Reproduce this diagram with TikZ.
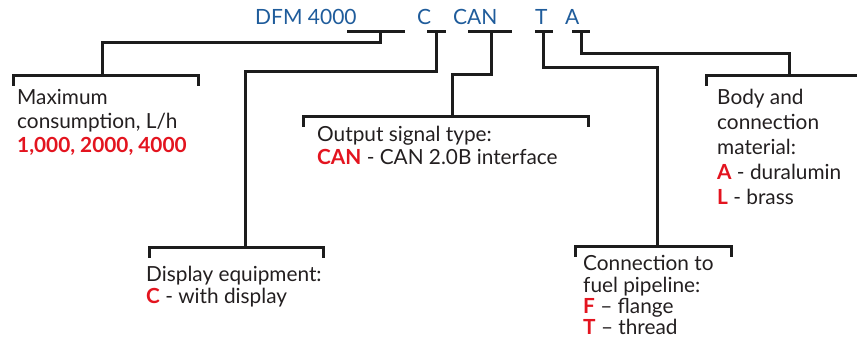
\documentclass[tikz,border=0pt]{standalone}
\usepackage{fontspec}
\setmainfont{Lato}
\definecolor{codeblue}{HTML}{1F5C9B}
\definecolor{optred}{HTML}{E3141F}
\definecolor{txt}{HTML}{231F20}
\definecolor{ln}{HTML}{1C1C1C}
\begin{document}
\begin{tikzpicture}[x=1pt,y=-1pt,
  code/.style={anchor=base west,inner sep=0pt,text=codeblue,font=\fontsize{21}{25}\selectfont},
  desc/.style={anchor=base west,inner sep=0pt,text=txt,font=\fontsize{20.8}{24}\selectfont},
  lead/.style={draw=ln,line width=3pt,line cap=rect,line join=miter},
  bracket/.style={draw=ln,line width=3pt,line join=miter}]
\useasboundingbox (0,0) rectangle (857,339);
% code letters
\node[code] (dfm) at (255,25) {DFM 4000};
\node[code] (c) at (417,25) {C};
\node[code] (can) at (453,25) {CAN};
\node[code] (t) at (535,25) {T};
\node[code] (a) at (565,25) {A};
% descriptions
\node[desc] (max1) at (17,105) {Maximum};
\node[desc] (max2) at (17,129) {consumption, L/h};
\node[desc] (max3) at (17,153) {\textcolor{optred}{\bfseries 1,000, 2000, 4000}};
\node[desc] (out1) at (317,142) {Output signal type:};
\node[desc] (out2) at (317,165) {\textcolor{optred}{\bfseries CAN} - CAN 2.0B interface};
\node[desc] (dis1) at (146,282) {Display equipment:};
\node[desc] (dis2) at (146,303) {\textcolor{optred}{\bfseries C} - with display};
\node[desc] (con1) at (583,270) {Connection to};
\node[desc] (con2) at (583,292) {fuel pipeline:};
\node[desc] (con3) at (583,313) {\textcolor{optred}{\bfseries F} – flange};
\node[desc] (con4) at (583,334) {\textcolor{optred}{\bfseries T} – thread};
\node[desc] (bod1) at (717,105) {Body and};
\node[desc] (bod2) at (717,130) {connection};
\node[desc] (bod3) at (717,155) {material:};
\node[desc] (bod4) at (717,180) {\textcolor{optred}{\bfseries A} - duralumin};
\node[desc] (bod5) at (717,205) {\textcolor{optred}{\bfseries L} - brass};
% DFM 4000
\draw[lead] (348,32) -- (403,32);
\draw[lead] (380,32) -- (380,42.5) -- (102,42.5) -- (102,76);
\draw[bracket] (13,86) -- (13,76) -- (198,76) -- (198,86);
% C
\draw[lead] (428,32) -- (444,32);
\draw[lead] (436,32) -- (436,71.5) -- (245,71.5) -- (245,248);
\draw[bracket] (149,258) -- (149,248) -- (323,248) -- (323,258);
% CAN
\draw[lead] (469,32) -- (510,32);
\draw[lead] (491,32) -- (491,75) -- (452,75) -- (452,117);
\draw[bracket] (303,127) -- (303,117) -- (588,117) -- (588,127);
% T
\draw[lead] (536,32) -- (551,32);
\draw[lead] (543,32) -- (543,68) -- (657,68) -- (657,247);
\draw[bracket] (575,257) -- (575,247) -- (731,247) -- (731,257);
% A
\draw[lead] (573,32) -- (588,32);
\draw[lead] (581,32) -- (581,54) -- (789,54) -- (789,76);
\draw[bracket] (706,86) -- (706,76) -- (858,76);
\end{tikzpicture}
\end{document}
